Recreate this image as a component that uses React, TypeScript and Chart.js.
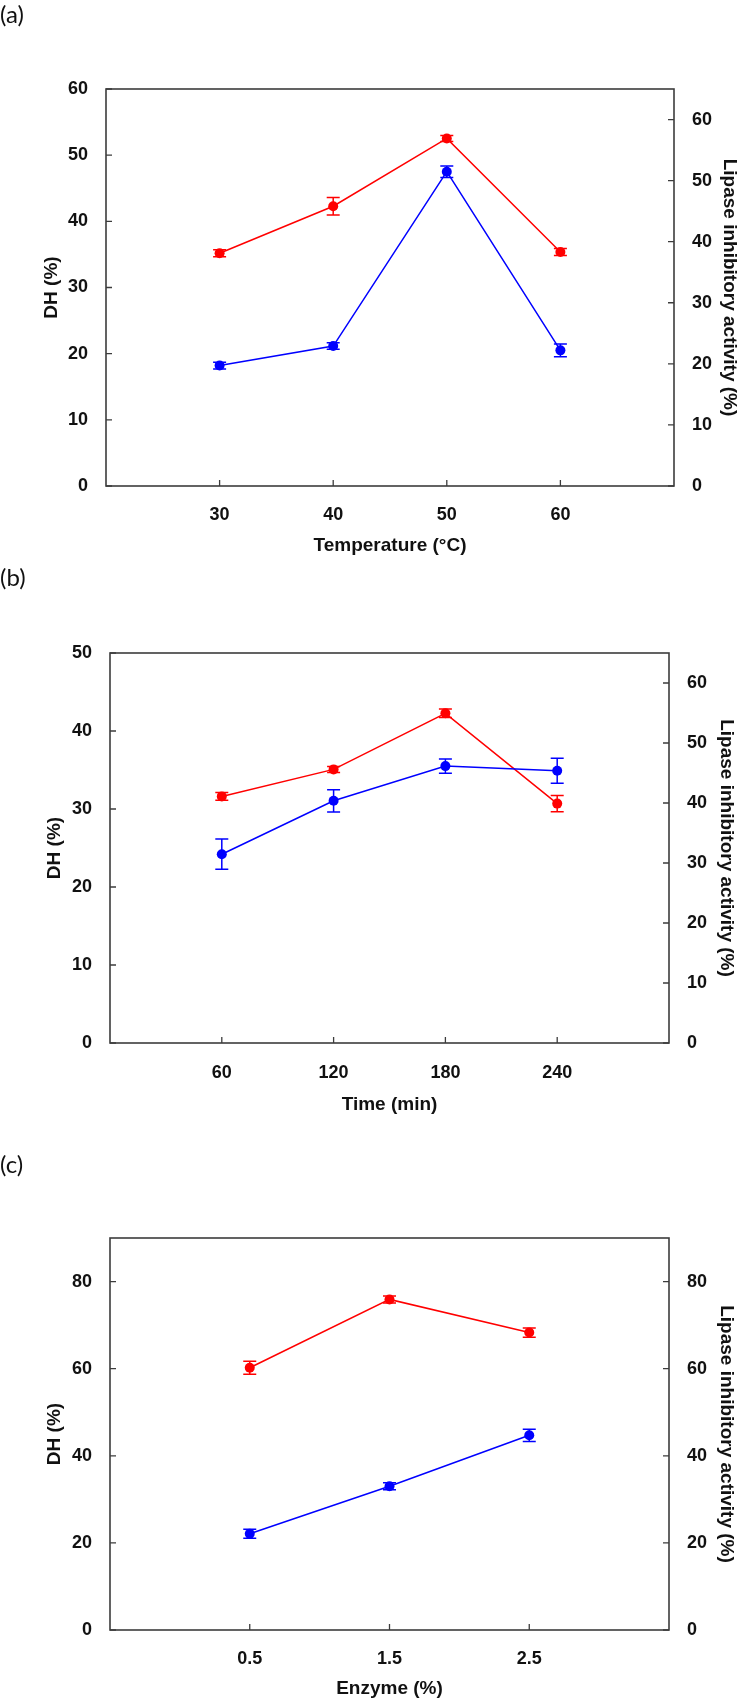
import React, { useEffect, useRef } from "react";
import { Chart, registerables } from "chart.js";

Chart.register(...registerables);

// ---------- Data ----------
// (a) Temperature
const tempX = [30, 40, 50, 60];
const tempDH = [18.2, 21.15, 47.5, 20.5];
const tempDHErr = [0.5, 0.5, 0.86, 0.95];
const tempLip = [38.1, 45.8, 56.9, 38.3];
const tempLipErr = [0.58, 1.45, 0.5, 0.58];
const tempXTicks = [30, 40, 50, 60];
const tempDHTicks = [0, 10, 20, 30, 40, 50, 60];
const tempLipTicks = [0, 10, 20, 30, 40, 50, 60];

// (b) Time
const timeX = [60, 120, 180, 240];
const timeDH = [24.2, 31.05, 35.5, 34.9];
const timeDHErr = [1.94, 1.42, 0.91, 1.6];
const timeLip = [41.1, 45.6, 54.95, 39.9];
const timeLipErr = [0.65, 0.5, 0.71, 1.34];
const timeXTicks = [60, 120, 180, 240];
const timeDHTicks = [0, 10, 20, 30, 40, 50];
const timeLipTicks = [0, 10, 20, 30, 40, 50, 60];

// (c) Enzyme
const enzX = [0.5, 1.5, 2.5];
const enzDH = [22.1, 33.0, 44.7];
const enzDHErr = [1.06, 0.8, 1.4];
const enzLip = [60.2, 75.9, 68.3];
const enzLipErr = [1.5, 0.8, 1.06];
const enzXTicks = [0.5, 1.5, 2.5];
const enzDHTicks = [0, 20, 40, 60, 80];
const enzLipTicks = [0, 20, 40, 60, 80];

const DH_COLOR = "rgb(0,0,255)";
const LIP_COLOR = "rgb(255,0,0)";
const W = 741;

type Panel = {
  label: string;
  labelTop: number;
  top: number;
  height: number;
  area: { left: number; right: number; top: number; bottom: number };
  xMin: number;
  xMax: number;
  xTicks: number[];
  xTitle: string;
  xs: number[];
  dh: number[];
  dhErr: number[];
  lip: number[];
  lipErr: number[];
  leftMax: number;
  leftTicks: number[];
  rightMax: number;
  rightTicks: number[];
  leftTitlePad: number;
  rightTitlePad: number;
  xTitlePad: number;
  xTickPad: number;
};

const panels: Panel[] = [
  {
    label: "(a)", labelTop: 0, top: 0, height: 560,
    area: { left: 106, right: 674, top: 89, bottom: 486 },
    xMin: 20, xMax: 70, xTicks: tempXTicks, xTitle: "Temperature (°C)",
    xs: tempX, dh: tempDH, dhErr: tempDHErr, lip: tempLip, lipErr: tempLipErr,
    leftMax: 60, leftTicks: tempDHTicks, rightMax: 65, rightTicks: tempLipTicks,
    leftTitlePad: 40, rightTitlePad: 0, xTitlePad: 3, xTickPad: 10,
  },
  {
    label: "(b)", labelTop: 563, top: 560, height: 560,
    area: { left: 110, right: 669, top: 93, bottom: 483 },
    xMin: 0, xMax: 300, xTicks: timeXTicks, xTitle: "Time (min)",
    xs: timeX, dh: timeDH, dhErr: timeDHErr, lip: timeLip, lipErr: timeLipErr,
    leftMax: 50, leftTicks: timeDHTicks, rightMax: 65, rightTicks: timeLipTicks,
    leftTitlePad: 43, rightTitlePad: 3, xTitlePad: 4, xTickPad: 11,
  },
  {
    label: "(c)", labelTop: 1150, top: 1120, height: 580,
    area: { left: 110, right: 669, top: 118, bottom: 510 },
    xMin: -0.5, xMax: 3.5, xTicks: enzXTicks, xTitle: "Enzyme (%)",
    xs: enzX, dh: enzDH, dhErr: enzDHErr, lip: enzLip, lipErr: enzLipErr,
    leftMax: 90, leftTicks: enzDHTicks, rightMax: 90, rightTicks: enzLipTicks,
    leftTitlePad: 43, rightTitlePad: 3, xTitlePad: 0, xTickPad: 10,
  },
];

const FONT_FAMILY = "'Liberation Sans', Arial, Helvetica, sans-serif";

const framePlugin = {
  id: "frameTicks",
  beforeDatasetsDraw(chart: any) {
    const { ctx, chartArea } = chart;
    const { left, right, top, bottom } = chartArea;
    ctx.save();
    ctx.strokeStyle = "#3c3c3c";
    ctx.lineWidth = 1.6;
    ctx.strokeRect(left, top, right - left, bottom - top);
    ctx.lineWidth = 1.3;
    const tl = 6;
    const xs = chart.scales.x;
    ctx.beginPath();
    xs.ticks.forEach((t: any) => {
      const px = xs.getPixelForValue(t.value);
      ctx.moveTo(px, bottom);
      ctx.lineTo(px, bottom - tl);
    });
    const yl = chart.scales.y;
    yl.ticks.forEach((t: any) => {
      const py = yl.getPixelForValue(t.value);
      ctx.moveTo(left, py);
      ctx.lineTo(left + tl, py);
    });
    const yr = chart.scales.y1;
    yr.ticks.forEach((t: any) => {
      const py = yr.getPixelForValue(t.value);
      ctx.moveTo(right, py);
      ctx.lineTo(right - tl, py);
    });
    ctx.stroke();
    ctx.restore();
  },
  afterDatasetsDraw(chart: any) {
    const { ctx } = chart;
    chart.data.datasets.forEach((ds: any, i: number) => {
      const meta = chart.getDatasetMeta(i);
      const yScale = chart.scales[ds.yAxisID];
      meta.data.forEach((pt: any, j: number) => {
        const v = ds.data[j].y;
        const e = ds.errors[j];
        const yT = yScale.getPixelForValue(v + e);
        const yB = yScale.getPixelForValue(v - e);
        const cap = 6.5;
        ctx.save();
        ctx.strokeStyle = ds.borderColor;
        ctx.lineWidth = 1.5;
        ctx.beginPath();
        ctx.moveTo(pt.x, yT);
        ctx.lineTo(pt.x, yB);
        ctx.moveTo(pt.x - cap, yT);
        ctx.lineTo(pt.x + cap, yT);
        ctx.moveTo(pt.x - cap, yB);
        ctx.lineTo(pt.x + cap, yB);
        ctx.stroke();
        ctx.restore();
      });
    });
  },
};

function PanelChart({ p }: { p: Panel }) {
  const ref = useRef<HTMLCanvasElement | null>(null);
  useEffect(() => {
    if (!ref.current) return;
    const H = p.height;
    const tickFont = { family: FONT_FAMILY, size: 18, weight: "bold" as const };
    const titleFont = { family: FONT_FAMILY, size: 19, weight: "bold" as const };
    const chart = new Chart(ref.current, {
      type: "line",
      data: {
        datasets: [
          {
            label: "DH",
            data: p.xs.map((x, i) => ({ x, y: p.dh[i] })),
            errors: p.dhErr,
            yAxisID: "y",
            borderColor: DH_COLOR,
            backgroundColor: DH_COLOR,
            pointBackgroundColor: DH_COLOR,
            pointBorderWidth: 0,
            pointRadius: 5,
            borderWidth: 1.5,
            tension: 0,
          } as any,
          {
            label: "Lipase inhibitory activity",
            data: p.xs.map((x, i) => ({ x, y: p.lip[i] })),
            errors: p.lipErr,
            yAxisID: "y1",
            borderColor: LIP_COLOR,
            backgroundColor: LIP_COLOR,
            pointBackgroundColor: LIP_COLOR,
            pointBorderWidth: 0,
            pointRadius: 5,
            borderWidth: 1.5,
            tension: 0,
          } as any,
        ],
      },
      options: {
        responsive: false,
        animation: false,
        devicePixelRatio: 1,
        layout: { padding: { top: p.area.top, left: 0, right: 0, bottom: 0 } },
        plugins: { legend: { display: false }, tooltip: { enabled: false } },
        scales: {
          x: {
            type: "linear",
            position: "bottom",
            min: p.xMin,
            max: p.xMax,
            grid: { display: false },
            border: { display: false },
            afterBuildTicks: (s: any) => {
              s.ticks = p.xTicks.map((v) => ({ value: v }));
            },
            afterFit: (s: any) => {
              s.height = H - p.area.bottom;
            },
            ticks: {
              font: tickFont,
              color: "#111",
              padding: p.xTickPad,
              maxRotation: 0,
              callback: (v: any) => String(v),
            },
            title: {
              display: true,
              text: p.xTitle,
              font: titleFont,
              color: "#111",
              padding: { top: 0, bottom: p.xTitlePad },
            },
          },
          y: {
            type: "linear",
            position: "left",
            min: 0,
            max: p.leftMax,
            grid: { display: false },
            border: { display: false },
            afterBuildTicks: (s: any) => {
              s.ticks = p.leftTicks.map((v) => ({ value: v }));
            },
            afterFit: (s: any) => {
              s.width = p.area.left;
            },
            ticks: { font: tickFont, color: "#111", padding: 10, callback: (v: any) => String(v) },
            title: {
              display: true,
              text: "DH (%)",
              font: titleFont,
              color: "#111",
              padding: { top: p.leftTitlePad, bottom: 0 },
            },
          },
          y1: {
            type: "linear",
            position: "right",
            min: 0,
            max: p.rightMax,
            grid: { display: false },
            border: { display: false },
            afterBuildTicks: (s: any) => {
              s.ticks = p.rightTicks.map((v) => ({ value: v }));
            },
            afterFit: (s: any) => {
              s.width = W - p.area.right;
            },
            ticks: { font: tickFont, color: "#111", padding: 10, callback: (v: any) => String(v) },
            title: {
              display: true,
              text: "Lipase inhibitory activity (%)",
              font: titleFont,
              color: "#111",
              padding: { top: p.rightTitlePad, bottom: 0 },
            },
          },
        },
      } as any,
      plugins: [framePlugin],
    });
    return () => chart.destroy();
  }, [p]);
  return (
    <>
      <canvas
        ref={ref}
        width={W}
        height={p.height}
        style={{ position: "absolute", left: 0, top: p.top, width: W, height: p.height }}
      />
      <div
        style={{
          position: "absolute",
          left: 0,
          top: p.labelTop,
          fontFamily: "Lato, 'Open Sans', sans-serif",
          fontSize: 24,
          lineHeight: "28px",
          color: "#111",
        }}
      >
        {p.label}
      </div>
    </>
  );
}

export default function App() {
  return (
    <div
      style={{
        position: "absolute",
        left: 0,
        top: 0,
        width: W,
        height: 1700,
        background: "#fff",
        overflow: "hidden",
      }}
    >
      {panels.map((p) => (
        <PanelChart key={p.label} p={p} />
      ))}
    </div>
  );
}
